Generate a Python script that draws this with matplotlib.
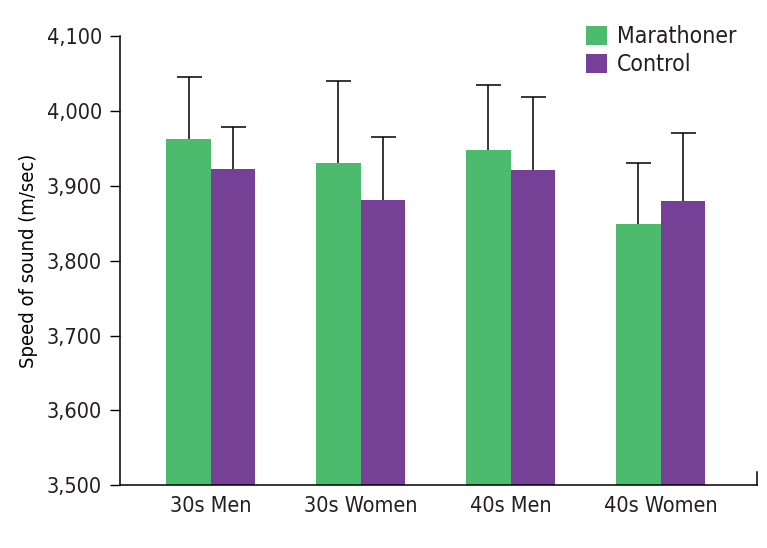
import matplotlib.pyplot as plt
import numpy as np

# ---- Data ----
groups = ["30s Men", "30s Women", "40s Men", "40s Women"]
marathoner = np.array([3962, 3930, 3948, 3849])
marathoner_sd = np.array([84, 110, 87, 82])
control = np.array([3922, 3881, 3921, 3880])
control_sd = np.array([56, 84, 98, 91])

green = "#4dbb6e"
purple = "#754096"
ink = "#231f20"

plt.rcParams["font.family"] = ["DejaVu Sans"]
plt.rcParams["font.stretch"] = "condensed"
plt.rcParams["text.color"] = ink

fig = plt.figure(figsize=(7.67, 5.48), dpi=100)
ax = fig.add_axes([0.1565, 0.1144, 0.8305, 0.8196])

x = np.arange(len(groups))
w = 0.297

for offs, vals, sd, col, lab in [(-w / 2, marathoner, marathoner_sd, green, "Marathoner"),
                                 (w / 2, control, control_sd, purple, "Control")]:
    ax.bar(x + offs, vals, w, color=col, label=lab, zorder=2)
    # upper-only error bars with a single cap
    ax.vlines(x + offs, vals, vals + sd, color="black", lw=1.1, zorder=1)
    ax.plot(x + offs, vals + sd, ls="none", marker="_", markersize=18,
            markeredgewidth=1.1, color="black", zorder=1)

ax.set_ylim(3500, 4100)
ax.set_xlim(-0.605, 3.642)
ax.set_yticks(range(3500, 4101, 100))
ax.set_yticklabels([f"{v:,}" for v in range(3500, 4101, 100)], fontsize=15.5)
ax.set_xticks(x)
ax.set_xticklabels(groups, fontsize=15.5)
ax.tick_params(axis="x", length=0, pad=8, labelcolor=ink)
ax.tick_params(axis="y", length=7, width=1, pad=6, labelcolor=ink)
ax.set_ylabel("Speed of sound (m/sec)", fontsize=14.5, labelpad=6)

ax.spines["top"].set_visible(False)
ax.spines["right"].set_visible(False)
for s in ("left", "bottom"):
    ax.spines[s].set_linewidth(1.1)

# small tick at the right end of the x axis
ax.plot([1, 1], [0, 0.03], transform=ax.transAxes, color="black",
        lw=1.1, clip_on=False)

ax.legend(loc="upper right", bbox_to_anchor=(1.0, 1.07), frameon=False,
          fontsize=16.5, handlelength=0.9, handleheight=0.9,
          handletextpad=0.45, labelspacing=0.2)

fig.savefig("out.png", dpi=100)
